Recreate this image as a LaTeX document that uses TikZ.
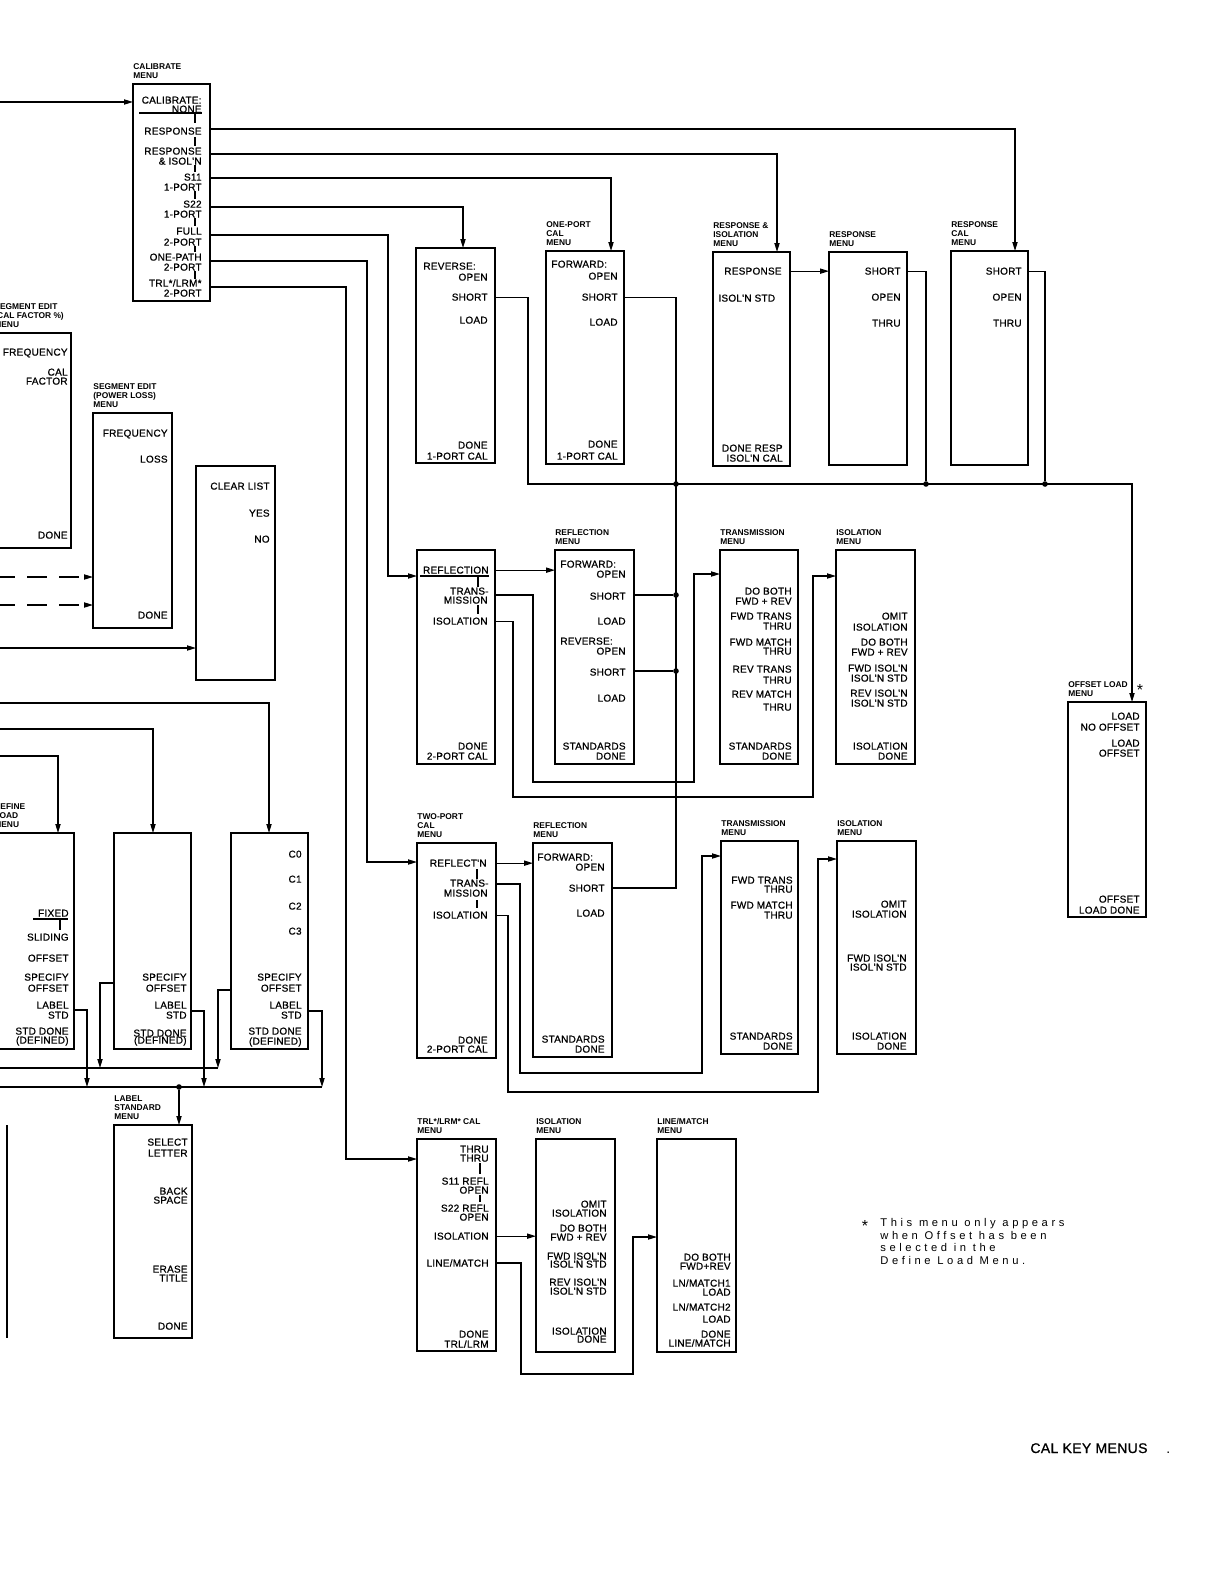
\documentclass[tikz,border=0pt]{standalone}
\usepackage{fontspec}
\setmainfont{Liberation Sans}
\newfontfamily\notefont[LetterSpace=32]{Liberation Sans}
\newfontfamily\itemfont[FakeBold=0.8,LetterSpace=2.5]{Liberation Sans}
\usetikzlibrary{arrows.meta,fit}
\newcommand\mi[4]{\node[it] (#1) at (#2,#3) {#4};}
\newcommand\ml[4]{\node[itl] (#1) at (#2,#3) {#4};}
\newcommand\bx[5]{\node[box,fit={(#2,#3) (#4,#5)}] (#1) {};}
\newcommand\vt[3]{\draw[conn] (#1,#2) -- (#1,#3);}
\begin{document}
\begin{tikzpicture}[x=0.5pt,y=-0.5pt,
 box/.style={draw,line width=0.7pt,inner sep=0pt,outer sep=0pt},
 it/.style={anchor=base east,inner sep=0pt,font=\itemfont\fontsize{5}{5}\selectfont,yshift=-1.8pt},
 itl/.style={it,anchor=base west},
 ttl/.style={anchor=south west,align=left,inner sep=0pt,font=\fontsize{4.2}{4.6}\selectfont\bfseries},
 conn/.style={draw,line width=0.6pt},
 arr/.style={conn,-{Triangle[length=4.5pt,width=2.6pt]}},
 dsh/.style={arr,dash pattern=on 10pt off 6pt},
 dot/.style={circle,fill,inner sep=0pt,minimum size=2.8pt}]
\useasboundingbox (0,0) rectangle (1224,1584);
\fill[white] (0,0) rectangle (1224,1584);

% ---------------- CALIBRATE MENU
\bx{cal}{133}{84}{210}{301}
\node[ttl] (tcal) at ([yshift=2.5pt]cal.north west) {CALIBRATE\\MENU};
\mi{c1}{202}{100}{CALIBRATE:}
\mi{c2}{202}{109}{NONE}
\mi{c3}{202}{131}{RESPONSE}
\mi{c4}{202}{151}{RESPONSE}
\mi{c5}{202}{161}{\& ISOL'N}
\mi{c6}{202}{177}{S11}
\mi{c7}{202}{187}{1-PORT}
\mi{c8}{202}{204}{S22}
\mi{c9}{202}{214}{1-PORT}
\mi{c10}{202}{231}{FULL}
\mi{c11}{202}{242}{2-PORT}
\mi{c12}{202}{257}{ONE-PATH}
\mi{c13}{202}{267}{2-PORT}
\mi{c14}{202}{283}{TRL*/LRM*}
\mi{c15}{202}{293}{2-PORT}
\draw[conn] (139,113) -- (202,113);
\vt{195}{114}{123}\vt{195}{137}{146}\vt{195}{165}{172}\vt{195}{191}{199}
\vt{195}{218}{226}\vt{195}{246}{252}\vt{195}{271}{279}

% ---------------- Row 1
\bx{rev}{416}{248}{495}{463}
\ml{r1}{423}{266}{REVERSE:}
\mi{r2}{488}{277}{OPEN}
\mi{r3}{488}{297}{SHORT}
\mi{r4}{488}{320}{LOAD}
\mi{r5}{488}{445}{DONE}
\mi{r6}{488}{456}{1-PORT CAL}

\bx{op}{546}{251}{624}{464}
\node[ttl] (top) at ([yshift=2.5pt]op.north west) {ONE-PORT\\CAL\\MENU};
\ml{o1}{551}{264}{FORWARD:}
\mi{o2}{618}{276}{OPEN}
\mi{o3}{618}{297}{SHORT}
\mi{o4}{618}{322}{LOAD}
\mi{o5}{618}{444}{DONE}
\mi{o6}{618}{456}{1-PORT CAL}

\bx{ri}{713}{252}{790}{466}
\node[ttl] (tri) at ([yshift=2.5pt]ri.north west) {RESPONSE \&\\ISOLATION\\MENU};
\mi{ri1}{782}{271}{RESPONSE}
\ml{ri2}{718}{298}{ISOL'N STD}
\mi{ri3}{783}{448}{DONE RESP}
\mi{ri4}{783}{458}{ISOL'N CAL}

\bx{rm}{829}{252}{907}{465}
\node[ttl] (trm) at ([yshift=2.5pt]rm.north west) {RESPONSE\\MENU};
\mi{rm1}{901}{271}{SHORT}
\mi{rm2}{901}{297}{OPEN}
\mi{rm3}{901}{323}{THRU}

\bx{rcm}{951}{251}{1028}{465}
\node[ttl] (trc) at ([yshift=2.5pt]rcm.north west) {RESPONSE\\CAL\\MENU};
\mi{rc1}{1022}{271}{SHORT}
\mi{rc2}{1022}{297}{OPEN}
\mi{rc3}{1022}{323}{THRU}

% ---------------- Offset load
\bx{ol}{1068}{702}{1146}{917}
\node[ttl] (tol) at ([yshift=2.5pt]ol.north west) {OFFSET LOAD\\MENU};
\node[inner sep=0pt,font=\fontsize{8}{8}\selectfont] (star1) at (1140,690) {*};
\mi{ol1}{1140}{716}{LOAD}
\mi{ol2}{1140}{727}{NO OFFSET}
\mi{ol3}{1140}{743}{LOAD}
\mi{ol4}{1140}{753}{OFFSET}
\mi{ol5}{1140}{899}{OFFSET}
\mi{ol6}{1140}{910}{LOAD DONE}

% ---------------- Row 2
\bx{fb}{417}{550}{495}{764}
\mi{f1}{489}{570}{REFLECTION}
\draw[conn] (420,576) -- (489,576);
\vt{478}{577}{587}
\mi{f2}{489}{591}{TRANS-}
\mi{f3}{488}{600}{MISSION}
\vt{478}{605}{614}
\mi{f4}{488}{621}{ISOLATION}
\mi{f5}{488}{746}{DONE}
\mi{f6}{488}{756}{2-PORT CAL}

\bx{rf2}{555}{550}{634}{764}
\node[ttl] (trf2) at ([yshift=2.5pt]rf2.north west) {REFLECTION\\MENU};
\ml{g1}{560}{564}{FORWARD:}
\mi{g2}{626}{574}{OPEN}
\mi{g3}{626}{596}{SHORT}
\mi{g4}{626}{621}{LOAD}
\ml{g5}{560}{641}{REVERSE:}
\mi{g6}{626}{651}{OPEN}
\mi{g7}{626}{672}{SHORT}
\mi{g8}{626}{698}{LOAD}
\mi{g9}{626}{746}{STANDARDS}
\mi{g10}{626}{756}{DONE}

\bx{tm2}{720}{550}{798}{764}
\node[ttl] (ttm2) at ([yshift=2.5pt]tm2.north west) {TRANSMISSION\\MENU};
\mi{m1}{792}{591}{DO BOTH}
\mi{m2}{792}{601}{FWD + REV}
\mi{m3}{792}{616}{FWD TRANS}
\mi{m4}{792}{626}{THRU}
\mi{m5}{792}{642}{FWD MATCH}
\mi{m6}{792}{651}{THRU}
\mi{m7}{792}{669}{REV TRANS}
\mi{m8}{792}{680}{THRU}
\mi{m9}{792}{694}{REV MATCH}
\mi{m10}{792}{707}{THRU}
\mi{m11}{792}{746}{STANDARDS}
\mi{m12}{792}{756}{DONE}

\bx{is2}{836}{550}{915}{764}
\node[ttl] (tis2) at ([yshift=2.5pt]is2.north west) {ISOLATION\\MENU};
\mi{n1}{908}{616}{OMIT}
\mi{n2}{908}{627}{ISOLATION}
\mi{n3}{908}{642}{DO BOTH}
\mi{n4}{908}{652}{FWD + REV}
\mi{n5}{908}{668}{FWD ISOL'N}
\mi{n6}{908}{678}{ISOL'N STD}
\mi{n7}{908}{693}{REV ISOL'N}
\mi{n8}{908}{703}{ISOL'N STD}
\mi{n9}{908}{746}{ISOLATION}
\mi{n10}{908}{756}{DONE}

% ---------------- Row 3
\bx{tp}{417}{843}{496}{1058}
\node[ttl] (ttp) at ([yshift=2.5pt]tp.north west) {TWO-PORT\\CAL\\MENU};
\mi{p1}{487}{863}{REFLECT'N}
\vt{477}{869}{879}
\mi{p2}{489}{883}{TRANS-}
\mi{p3}{488}{893}{MISSION}
\vt{477}{900}{908}
\mi{p4}{488}{915}{ISOLATION}
\mi{p5}{488}{1040}{DONE}
\mi{p6}{488}{1049}{2-PORT CAL}

\bx{rf3}{533}{843}{612}{1057}
\node[ttl] (trf3) at ([yshift=2.5pt]rf3.north west) {REFLECTION\\MENU};
\ml{h1}{537}{857}{FORWARD:}
\mi{h2}{605}{867}{OPEN}
\mi{h3}{605}{888}{SHORT}
\mi{h4}{605}{913}{LOAD}
\mi{h5}{605}{1039}{STANDARDS}
\mi{h6}{605}{1049}{DONE}

\bx{tm3}{721}{841}{798}{1054}
\node[ttl] (ttm3) at ([yshift=2.5pt]tm3.north west) {TRANSMISSION\\MENU};
\mi{q1}{793}{880}{FWD TRANS}
\mi{q2}{793}{889}{THRU}
\mi{q3}{793}{905}{FWD MATCH}
\mi{q4}{793}{915}{THRU}
\mi{q5}{793}{1036}{STANDARDS}
\mi{q6}{793}{1046}{DONE}

\bx{is3}{837}{841}{916}{1054}
\node[ttl] (tis3) at ([yshift=2.5pt]is3.north west) {ISOLATION\\MENU};
\mi{s1}{907}{904}{OMIT}
\mi{s2}{907}{914}{ISOLATION}
\mi{s3}{907}{958}{FWD ISOL'N}
\mi{s4}{907}{967}{ISOL'N STD}
\mi{s5}{907}{1036}{ISOLATION}
\mi{s6}{907}{1046}{DONE}

% ---------------- Row 4
\bx{trl}{417}{1139}{496}{1351}
\node[ttl] (ttrl) at ([yshift=2.5pt]trl.north west) {TRL*/LRM* CAL\\MENU};
\mi{u1}{489}{1149}{THRU}
\mi{u2}{489}{1158}{THRU}
\vt{480}{1163}{1174}
\mi{u3}{489}{1181}{S11 REFL}
\mi{u4}{489}{1190}{OPEN}
\vt{480}{1195}{1202}
\mi{u5}{489}{1208}{S22 REFL}
\mi{u6}{489}{1217}{OPEN}
\mi{u7}{489}{1236}{ISOLATION}
\mi{u8}{489}{1263}{LINE/MATCH}
\mi{u9}{489}{1334}{DONE}
\mi{u10}{489}{1344}{TRL/LRM}

\bx{is4}{536}{1139}{615}{1352}
\node[ttl] (tis4) at ([yshift=2.5pt]is4.north west) {ISOLATION\\MENU};
\mi{w1}{607}{1204}{OMIT}
\mi{w2}{607}{1213}{ISOLATION}
\mi{w3}{607}{1228}{DO BOTH}
\mi{w4}{607}{1237}{FWD + REV}
\mi{w5}{607}{1256}{FWD ISOL'N}
\mi{w6}{607}{1264}{ISOL'N STD}
\mi{w7}{607}{1282}{REV ISOL'N}
\mi{w8}{607}{1291}{ISOL'N STD}
\mi{w9}{607}{1331}{ISOLATION}
\mi{w10}{607}{1339}{DONE}

\bx{lm}{657}{1139}{736}{1352}
\node[ttl] (tlm) at ([yshift=2.5pt]lm.north west) {LINE/MATCH\\MENU};
\mi{z1}{731}{1257}{DO BOTH}
\mi{z2}{731}{1266}{FWD+REV}
\mi{z3}{731}{1283}{LN/MATCH1}
\mi{z4}{731}{1292}{LOAD}
\mi{z5}{731}{1307}{LN/MATCH2}
\mi{z6}{731}{1319}{LOAD}
\mi{z7}{731}{1334}{DONE}
\mi{z8}{731}{1343}{LINE/MATCH}

% ---------------- Left side
\bx{sc}{-6}{333}{71}{548}
\node[ttl] (tsc) at ([yshift=2.5pt]sc.north west) {SEGMENT EDIT\\(CAL FACTOR \%)\\MENU};
\mi{k1}{68}{352}{FREQUENCY}
\mi{k2}{68}{372}{CAL}
\mi{k3}{68}{381}{FACTOR}
\mi{k4}{68}{535}{DONE}

\bx{sp}{93}{413}{172}{628}
\node[ttl] (tsp) at ([yshift=2.5pt]sp.north west) {SEGMENT EDIT\\(POWER LOSS)\\MENU};
\mi{e1}{168}{433}{FREQUENCY}
\mi{e2}{168}{459}{LOSS}
\mi{e3}{168}{615}{DONE}

\bx{cl}{196}{466}{275}{680}
\mi{a1}{270}{486}{CLEAR LIST}
\mi{a2}{270}{513}{YES}
\mi{a3}{270}{539}{NO}

\bx{dl}{-6}{833}{74}{1049}
\node[ttl] (tdl) at ([yshift=2.5pt]dl.north west) {DEFINE\\LOAD\\MENU};
\mi{x1}{69}{913}{FIXED}
\draw[conn] (33,919) -- (68,919);
\vt{60}{920}{930}
\mi{x2}{69}{937}{SLIDING}
\mi{x3}{69}{958}{OFFSET}
\mi{x4}{69}{977}{SPECIFY}
\mi{x5}{69}{988}{OFFSET}
\mi{x6}{69}{1005}{LABEL}
\mi{x7}{69}{1015}{STD}
\mi{x8}{69}{1031}{STD DONE}
\mi{x9}{69}{1040}{(DEFINED)}

\bx{so}{114}{833}{191}{1049}
\mi{y1}{187}{977}{SPECIFY}
\mi{y2}{187}{988}{OFFSET}
\mi{y3}{187}{1005}{LABEL}
\mi{y4}{187}{1015}{STD}
\mi{y5}{187}{1033}{STD DONE}
\mi{y6}{187}{1040}{(DEFINED)}

\bx{cc}{231}{833}{308}{1049}
\mi{j1}{302}{854}{C0}
\mi{j2}{302}{879}{C1}
\mi{j3}{302}{906}{C2}
\mi{j4}{302}{931}{C3}
\mi{j5}{302}{977}{SPECIFY}
\mi{j6}{302}{988}{OFFSET}
\mi{j7}{302}{1005}{LABEL}
\mi{j8}{302}{1015}{STD}
\mi{j9}{302}{1031}{STD DONE}
\mi{j10}{302}{1041}{(DEFINED)}

\bx{ls}{114}{1125}{192}{1338}
\node[ttl] (tls) at ([yshift=2.5pt]ls.north west) {LABEL\\STANDARD\\MENU};
\mi{l1}{188}{1142}{SELECT}
\mi{l2}{188}{1153}{LETTER}
\mi{l3}{188}{1191}{BACK}
\mi{l4}{188}{1200}{SPACE}
\mi{l5}{188}{1269}{ERASE}
\mi{l6}{188}{1278}{TITLE}
\mi{l7}{188}{1326}{DONE}

\draw[conn] (7,1125) -- (7,1338);

% ---------------- Note and caption
\node[inner sep=0pt,font=\fontsize{8}{8}\selectfont] (ast) at (865,1226) {*};
\node[anchor=north west,align=left,inner sep=0pt,font=\notefont\fontsize{5.6}{6.25}\selectfont] (note) at (880,1218) {This menu only appears\\when Offset has been\\selected in the\\Define Load Menu.};
\node[anchor=base west,inner sep=0pt,font=\itemfont\fontsize{7}{7}\selectfont] (ckm) at (1030,1453) {CAL KEY MENUS};
\node[anchor=base west,inner sep=0pt,font=\fontsize{7}{7}\selectfont] (ckd) at (1166,1453) {.};

% ================= CONNECTORS
\coordinate (inCal) at (-5,102);
\draw[arr] (inCal) -- (cal.west |- inCal);
\coordinate (yR) at (0,129);
\coordinate (yRI) at (0,154);
\coordinate (yS1) at (0,178);
\coordinate (yS2) at (0,207);
\coordinate (yF) at (0,235);
\coordinate (yOP) at (0,261);
\coordinate (yT) at (0,287);
\draw[arr] (cal.east |- yR) -| ([xshift=32pt]rcm.north west);
\draw[arr] (cal.east |- yRI) -| ([xshift=32pt]ri.north west);
\draw[arr] (cal.east |- yS1) -| ([xshift=32.5pt]op.north west);
\draw[arr] (cal.east |- yS2) -| ([xshift=23.5pt]rev.north west);
\coordinate (v2) at (388,576);
\draw[arr] (cal.east |- yF) -| (v2) -- (fb.west |- v2);
\coordinate (v3) at (367,862);
\draw[arr] (cal.east |- yOP) -| (v3) -- (tp.west |- v3);
\coordinate (v4) at (346,1159);
\draw[arr] (cal.east |- yT) -| (v4) -- (trl.west |- v4);

\draw[arr] (ri.east |- ri1) -- (rm.west |- ri1);

% bus to offset load
\coordinate (b1) at (528,484);
\coordinate (b2) at (1132,484);
\draw[arr] (rev.east |- r3) -| (b1) -- (b2) -- (ol.north -| b2);
\node[dot] (d1) at (676,484) {};
\node[dot] (d4) at (926,484) {};
\node[dot] (d5) at (1045,484) {};
\draw[conn] (rm.east |- rm1) -| (d4);
\draw[conn] (rcm.east |- rc1) -| (d5);
\coordinate (v1) at (676,888);
\draw[conn] (op.east |- o3) -| (v1) -- (rf3.east |- v1);
\node[dot] (d2) at (676,595) {};
\node[dot] (d3) at (676,671) {};
\draw[conn] (rf2.east |- d2) -- (d2);
\draw[conn] (rf2.east |- d3) -- (d3);

% row 2 links
\draw[arr] (fb.east |- f1) -- (rf2.west |- f1);
\coordinate (t2a) at (0,595);
\coordinate (t2b) at (533,782);
\coordinate (t2c) at (694,574);
\draw[arr] (fb.east |- t2a) -| (t2b) -| (t2c) -- (tm2.west |- t2c);
\coordinate (i2b) at (513,797);
\coordinate (i2c) at (813,576);
\draw[arr] (fb.east |- f4) -| (i2b) -| (i2c) -- (is2.west |- i2c);

% row 3 links
\draw[arr] (tp.east |- p1) -- (rf3.west |- p1);
\coordinate (t3a) at (0,884);
\coordinate (t3b) at (520,1073);
\coordinate (t3c) at (702,856);
\draw[arr] (tp.east |- t3a) -| (t3b) -| (t3c) -- (tm3.west |- t3c);
\coordinate (i3b) at (508,1092);
\coordinate (i3c) at (818,859);
\draw[arr] (tp.east |- p4) -| (i3b) -| (i3c) -- (is3.west |- i3c);

% row 4 links
\draw[arr] (trl.east |- u7) -- (is4.west |- u7);
\coordinate (t4b) at (521,1374);
\coordinate (t4c) at (633,1237);
\draw[arr] (trl.east |- u8) -| (t4b) -| (t4c) -- (lm.west |- t4c);

% left side links
\coordinate (ds1) at (-5,577);
\coordinate (ds2) at (-5,605);
\draw[dsh] (ds1) -- (sp.west |- ds1);
\draw[dsh] (ds2) -- (sp.west |- ds2);
\coordinate (clin) at (-5,648);
\draw[arr] (clin) -- (cl.west |- clin);

\coordinate (la) at (-5,703);
\coordinate (lb) at (-5,729);
\coordinate (lc) at (-5,756);
\draw[arr] (la) -| ([xshift=19pt]cc.north west);
\draw[arr] (lb) -| ([xshift=19.5pt]so.north west);
\draw[arr] (lc) -| ([xshift=-8pt]dl.north east);

\coordinate (ya) at (0,1010);
\coordinate (yb) at (0,983);
\coordinate (yc) at (0,1011);
\coordinate (yd) at (0,990);
\coordinate (ka) at (87,1087);
\coordinate (kb) at (100,1068);
\coordinate (kc) at (204,1087);
\coordinate (kd) at (218,1068);
\coordinate (ke) at (322,1087);
\draw[arr] (dl.east |- ya) -| (ka);
\draw[arr] (so.west |- yb) -| (kb);
\draw[arr] (so.east |- yc) -| (kc);
\draw[arr] (cc.west |- yd) -| (kd);
\draw[arr] (cc.east |- yc) -| (ke);
\coordinate (bs1) at (-5,1068);
\coordinate (bs2) at (-5,1087);
\draw[conn] (bs1) -- (kd);
\draw[conn] (bs2) -- (ke);
\node[dot] (d6) at (179,1087) {};
\draw[arr] (d6) -- (ls.north -| d6);
\end{tikzpicture}
\end{document}
